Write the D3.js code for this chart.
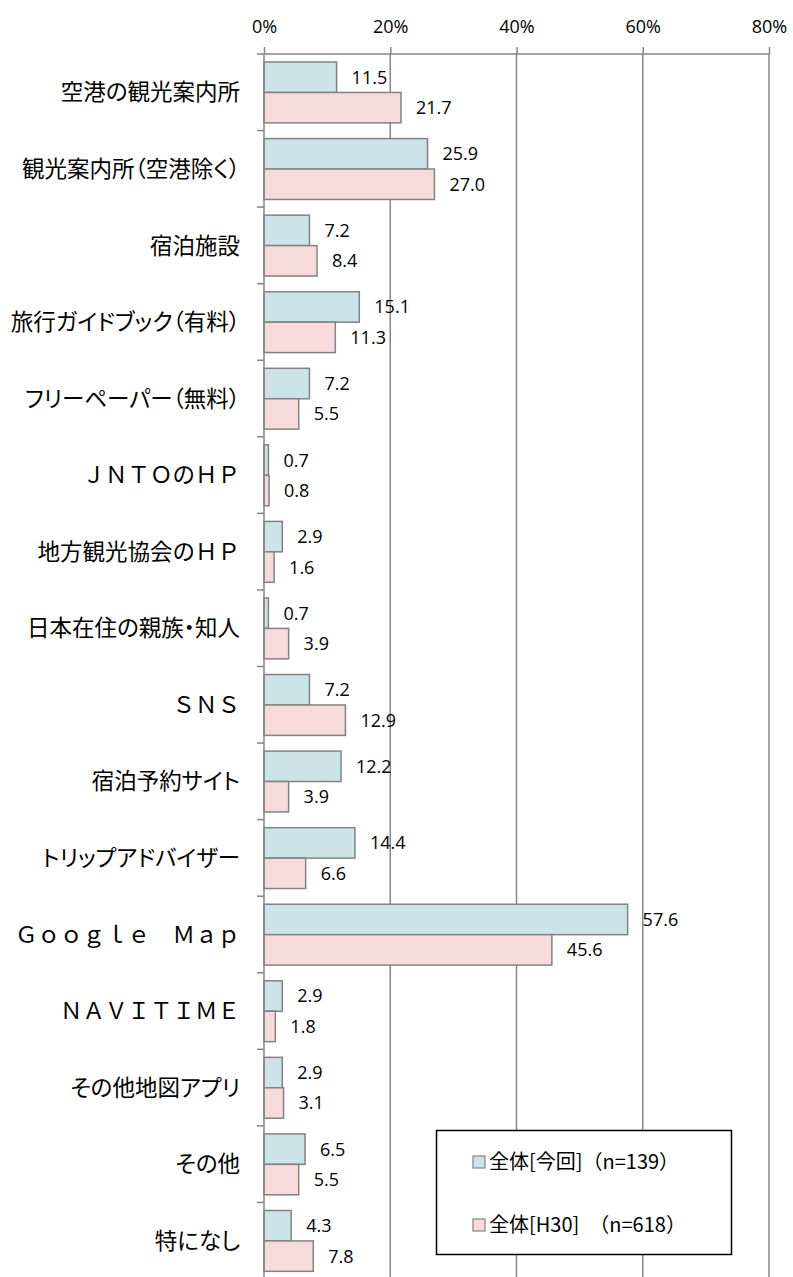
<!DOCTYPE html>
<html>
<head>
<meta charset="utf-8">
<script src="https://cdn.jsdelivr.net/npm/d3@7"></script>
<style>
  body { margin: 0; background: #fff; }
  svg text { fill: #000; }
  .cat { font-family: "Noto Sans CJK JP", sans-serif; font-size: 22.5px; }
  .cat.prop { font-feature-settings: "palt"; }
  .num { font-family: "Open Sans", "Liberation Sans", sans-serif; font-size: 18px; }
  .legend-text { font-family: "Noto Sans CJK JP", sans-serif; font-size: 20px; }
</style>
</head>
<body>
<div id="chart"></div>
<script>
// categories, top to bottom
const categories = [
  "空港の観光案内所",
  "観光案内所（空港除く）",
  "宿泊施設",
  "旅行ガイドブック（有料）",
  "フリーペーパー（無料）",
  "ＪＮＴＯのＨＰ",
  "地方観光協会のＨＰ",
  "日本在住の親族・知人",
  "ＳＮＳ",
  "宿泊予約サイト",
  "トリップアドバイザー",
  "Ｇｏｏｇｌｅ　Ｍａｐ",
  "ＮＡＶＩＴＩＭＥ",
  "その他地図アプリ",
  "その他",
  "特になし"
];

// 全体[今回] (n=139)
const current = [11.5, 25.9, 7.2, 15.1, 7.2, 0.7, 2.9, 0.7, 7.2, 12.2, 14.4, 57.6, 2.9, 2.9, 6.5, 4.3];
// 全体[H30] (n=618)
const h30 = [21.7, 27.0, 8.4, 11.3, 5.5, 0.8, 1.6, 3.9, 12.9, 3.9, 6.6, 45.6, 1.8, 3.1, 5.5, 7.8];

const seriesNames = ["全体[今回]（n=139）", "全体[H30]　（n=618）"];
const xTicks = [0, 20, 40, 60, 80];

const W = 793, H = 1277;
const plotLeft = 264, plotRight = 769, plotTop = 54, rowsBottom = 1279;

const colors = ["#cce3e8", "#f7dbdc"];
const stroke = "#828282";

const svg = d3.select("#chart")
  .append("svg")
  .attr("width", W)
  .attr("height", H);

// Scales
const xScale = d3.scaleLinear().domain([0, 80]).range([plotLeft, plotRight]);
const yScale = d3.scaleBand().domain(categories).range([plotTop, rowsBottom]);
const inner = d3.scaleBand()
  .domain([0, 1])
  .range([yScale.bandwidth() * 0.105, yScale.bandwidth() * 0.9]);

// vertical gridlines (skip 0, that is the axis)
svg.append("g")
  .selectAll("line")
  .data(xTicks.slice(1))
  .join("line")
  .attr("x1", d => xScale(d))
  .attr("x2", d => xScale(d))
  .attr("y1", plotTop)
  .attr("y2", H)
  .attr("stroke", "#868686")
  .attr("stroke-width", 1.5);

// top axis
const xAxis = d3.axisTop(xScale)
  .tickValues(xTicks)
  .tickFormat(d => d + "%")
  .tickSize(7)
  .tickPadding(14);

const gx = svg.append("g")
  .attr("transform", `translate(0, ${plotTop})`)
  .call(xAxis);
gx.select(".domain").attr("stroke", "#868686").attr("stroke-width", 1.5)
  .attr("d", `M${plotLeft},0H${plotRight}`);
gx.selectAll(".tick line").attr("stroke", "#868686").attr("stroke-width", 1.5);
gx.selectAll(".tick text")
  .attr("class", "num")
  .style("font-size", "18px")
  .attr("fill", "#000");

// rows
const rows = svg.append("g")
  .selectAll("g")
  .data(categories.map((c, i) => ({ cat: c, vals: [current[i], h30[i]] })))
  .join("g")
  .attr("transform", d => `translate(0, ${yScale(d.cat)})`);

rows.selectAll("rect")
  .data(d => d.vals)
  .join("rect")
  .attr("x", xScale(0))
  .attr("y", (d, i) => inner(i))
  .attr("width", d => xScale(d) - xScale(0))
  .attr("height", inner.bandwidth())
  .attr("fill", (d, i) => colors[i])
  .attr("stroke", stroke)
  .attr("stroke-width", 1.5);

// value labels
rows.selectAll("text.num")
  .data(d => d.vals)
  .join("text")
  .attr("class", "num")
  .attr("x", d => xScale(d) + 15)
  .attr("y", (d, i) => inner(i) + inner.bandwidth() / 2)
  .attr("dy", "0.36em")
  .text(d => d.toFixed(1));

// left axis with row ticks
const yAxisLine = svg.append("g");
yAxisLine.append("line")
  .attr("x1", plotLeft).attr("x2", plotLeft)
  .attr("y1", plotTop).attr("y2", H)
  .attr("stroke", "#868686")
  .attr("stroke-width", 1.5);
yAxisLine.selectAll("line.tk")
  .data(categories)
  .join("line")
  .attr("class", "tk")
  .attr("x1", plotLeft - 7).attr("x2", plotLeft)
  .attr("y1", d => yScale(d)).attr("y2", d => yScale(d))
  .attr("stroke", "#868686")
  .attr("stroke-width", 1.5);

// category labels
const fullWidthLatin = /[Ａ-Ｚａ-ｚ]/;
svg.append("g")
  .selectAll("text")
  .data(categories)
  .join("text")
  .attr("class", d => fullWidthLatin.test(d) ? "cat" : "cat prop")
  .attr("x", 240)
  .attr("y", d => yScale(d) + yScale.bandwidth() / 2)
  .attr("dy", "0.36em")
  .attr("text-anchor", "end")
  .text(d => d);

// legend
const legend = svg.append("g");
legend.append("rect")
  .attr("x", 436.5).attr("y", 1130.5)
  .attr("width", 295).attr("height", 124)
  .attr("fill", "#fff")
  .attr("stroke", "#000")
  .attr("stroke-width", 1.5);

const legendItems = legend.selectAll("g")
  .data(seriesNames)
  .join("g")
  .attr("transform", (d, i) => `translate(473, ${1162 + i * 63})`);
legendItems.append("rect")
  .attr("x", 0).attr("y", -6)
  .attr("width", 12).attr("height", 12)
  .attr("fill", (d, i) => colors[i])
  .attr("stroke", stroke)
  .attr("stroke-width", 1.2);
legendItems.append("text")
  .attr("class", "legend-text")
  .attr("x", 16)
  .attr("dy", "0.36em")
  .text(d => d);
</script>
</body>
</html>
